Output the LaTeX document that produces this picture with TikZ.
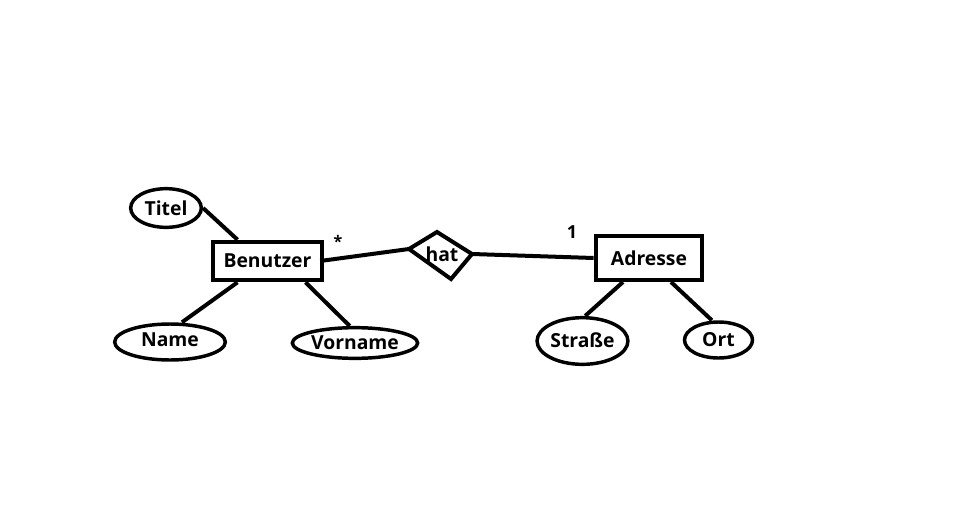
\documentclass[tikz,border=0pt]{standalone}
\usepackage{fontspec}
\setmainfont{Open Sans}
\usetikzlibrary{shapes.geometric}

\tikzset{
    entity/.style={draw, line width=3pt, inner sep=0pt, font=\bfseries\fontsize{14.5}{16}\selectfont},
    attrib/.style={draw, ellipse, line width=2.6pt, inner sep=0pt, font=\bfseries\fontsize{14.5}{16}\selectfont},
    lnk/.style={line width=3pt},
}

\begin{document}
\begin{tikzpicture}[x=0.75pt, y=-0.75pt]
    \useasboundingbox[fill=white] (0,0) rectangle (970,521);
    % Entitaeten
    \node[entity, minimum width=82pt, minimum height=29pt] (benutzer) at (267.5,261) {Benutzer};
    \node[entity, minimum width=80pt, minimum height=33pt] (adresse) at (649,258) {Adresse};
    % Attribute
    \node[attrib, minimum width=53pt, minimum height=29pt] (titel) at (166,208) {Titel};
    \node[attrib, minimum width=83pt, minimum height=27pt] (name) at (170,342) {\raisebox{3pt}{Name}};
    \node[attrib, minimum width=94pt, minimum height=23pt] (vorname) at (355,343) {Vorname};
    \node[attrib, minimum width=60pt, minimum height=35pt] (strasse) at (582.5,341) {\raisebox{2pt}{Straße}};
    \node[attrib, minimum width=51pt, minimum height=27pt] (ort) at (718.5,340) {Ort};
    % Beziehung (Raute von Hand)
    \coordinate (hatL) at (409,249);
    \coordinate (hatT) at (437,232);
    \coordinate (hatR) at (472,254);
    \coordinate (hatB) at (451,279);
    \draw[lnk, line join=miter] (hatL) -- (hatT) -- (hatR) -- (hatB) -- cycle;
    \node[font=\bfseries\fontsize{14.5}{16}\selectfont, inner sep=0.5pt] (hat) at (442,254) {hat};
    % Verbindungen
    \draw[lnk] (titel.east) -- ([xshift=20pt]benutzer.north west);
    \draw[lnk] ([xshift=20pt]benutzer.south west) -- ([xshift=9pt]name.north);
    \draw[lnk] ([xshift=-14pt]benutzer.south east) -- ([xshift=-4pt]vorname.north);
    \draw[lnk] ([xshift=-3pt]benutzer.east) -- (hatL);
    \draw[lnk] (hatR) -- (adresse.west);
    \draw[lnk] ([xshift=22pt]adresse.south west) -- ([xshift=2pt]strasse.north);
    \draw[lnk] ([xshift=-25pt]adresse.south east) -- ([xshift=-5pt]ort.north);
    % Kardinalitaeten
    \node[font=\bfseries\fontsize{12}{14}\selectfont] (stern) at (338,241) {*};
    \node[font=\bfseries\fontsize{13.5}{15}\selectfont] (eins) at (572,232) {1};
\end{tikzpicture}
\end{document}
